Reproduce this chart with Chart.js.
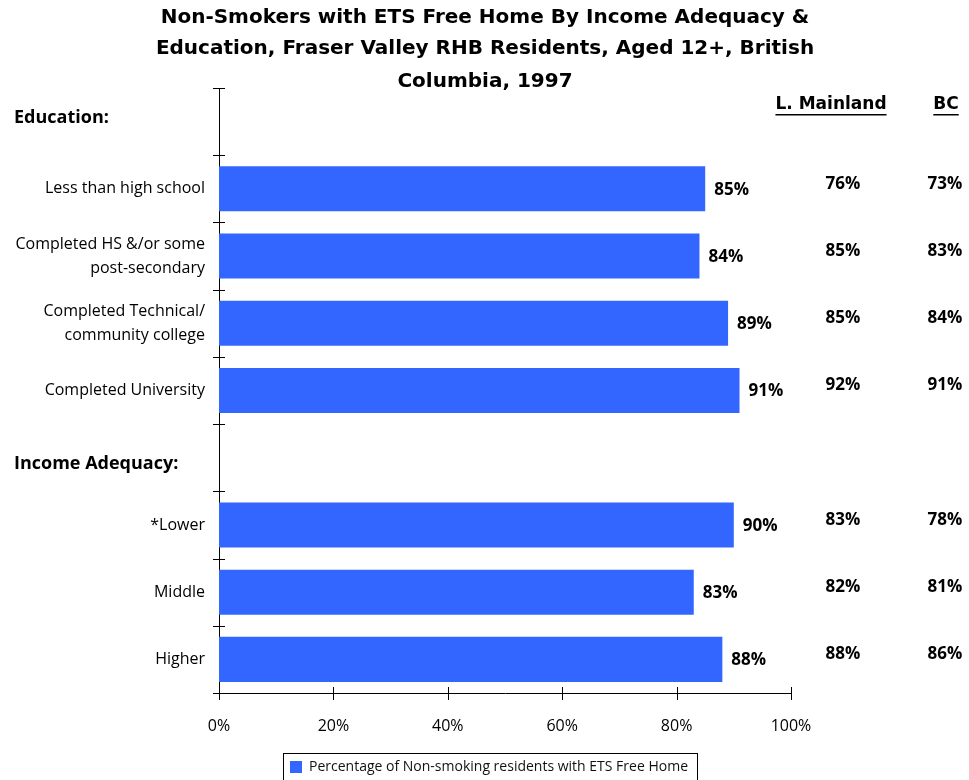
<!DOCTYPE html>
<html lang="en">
<head>
    <meta charset="UTF-8">
    <title>Non-Smokers with ETS Free Home</title>
    <script src="https://cdn.jsdelivr.net/npm/chart.js"></script>
    <style>
        html, body { margin: 0; padding: 0; background: #fff; }
        #wrap { position: relative; width: 969px; height: 780px; }
    </style>
</head>
<body>
    <div id="wrap"><canvas id="myChart"></canvas></div>

    <script>
        // Rows of the chart (blank rows hold the section headings)
        const categories = [
            '',
            'Less than high school',
            ['Completed HS &/or some', 'post-secondary'],
            ['Completed Technical/', 'community college'],
            'Completed University',
            '',
            '*Lower',
            'Middle',
            'Higher'
        ];
        const sections = ['Education:', null, null, null, null, 'Income Adequacy:', null, null, null];
        const fraserValley = [null, 85, 84, 89, 91, null, 90, 83, 88];
        const lowerMainland = [null, 76, 85, 85, 92, null, 83, 82, 88];
        const bcTotal = [null, 73, 83, 84, 91, null, 78, 81, 86];
        const xTickValues = [0, 20, 40, 60, 80, 100];
        const titleLines = [
            'Non-Smokers with ETS Free Home By Income Adequacy &',
            'Education, Fraser Valley RHB Residents, Aged 12+, British',
            'Columbia, 1997'
        ];

        const FONT = '"Open Sans", "Liberation Sans", sans-serif';
        const WIDE = '"DejaVu Sans", Verdana, sans-serif';
        const BAR_BLUE = '#3366FF';

        // Legend sits centred under the plot, not under the whole canvas
        const legendShift = {
            id: 'legendShift',
            afterLayout(chart) {
                const lg = chart.legend;
                if (!lg) return;
                const d = 489 - (lg.left + lg.right) / 2;
                lg.left += d;
                lg.right += d;
                (lg.legendHitBoxes || []).forEach(h => { h.left += d; });
            }
        };

        // Title, headings, bar values, side columns, axis ticks and legend frame
        const extras = {
            id: 'extras',
            afterDraw(chart) {
                const { ctx, scales: { x, y } } = chart;
                ctx.save();

                // title
                ctx.fillStyle = '#000';
                ctx.textAlign = 'center';
                ctx.textBaseline = 'middle';
                ctx.font = 'bold 20px ' + WIDE;
                const titleY = [18, 49, 82];
                titleLines.forEach((t, i) => ctx.fillText(t, 485, titleY[i]));

                // tick marks crossing the axes
                ctx.strokeStyle = '#000';
                ctx.lineWidth = 1;
                ctx.beginPath();
                const step = (y.bottom - y.top) / categories.length;
                for (let i = 0; i <= categories.length; i++) {
                    const py = Math.round(y.top + i * step) + 0.5;
                    ctx.moveTo(x.left - 6, py);
                    ctx.lineTo(x.left + 6, py);
                }
                xTickValues.forEach(v => {
                    const px = Math.round(x.getPixelForValue(v)) + 0.5;
                    ctx.moveTo(px, y.bottom - 6);
                    ctx.lineTo(px, y.bottom + 7);
                });
                ctx.stroke();

                // section headings
                ctx.textAlign = 'left';
                ctx.font = 'bold 18px ' + FONT;
                const headOffset = [-4, 6];
                let k = 0;
                sections.forEach((s, i) => {
                    if (!s) return;
                    ctx.fillText(s, 14, y.getPixelForValue(i) + headOffset[k++]);
                });

                // values at the end of each bar
                ctx.font = 'bold 17px ' + FONT;
                const meta = chart.getDatasetMeta(0);
                meta.data.forEach((bar, i) => {
                    if (fraserValley[i] == null) return;
                    ctx.fillText(fraserValley[i] + '%', bar.x + 9, bar.y + 1);
                });

                // comparison columns
                ctx.textAlign = 'center';
                const colMain = 843, colBC = 945;
                lowerMainland.forEach((v, i) => {
                    if (v == null) return;
                    const py = y.getPixelForValue(i) - 5;
                    ctx.fillText(v + '%', colMain, py);
                    ctx.fillText(bcTotal[i] + '%', colBC, py);
                });

                // underlined column headings
                ctx.font = 'bold 17px ' + WIDE;
                [['L. Mainland', 831], ['BC', 946]].forEach(([t, cx]) => {
                    ctx.fillText(t, cx, 105);
                    const w = ctx.measureText(t).width;
                    ctx.fillRect(cx - w / 2, 114, w, 1.5);
                });

                // frame around the legend
                const lg = chart.legend;
                if (lg && lg.legendHitBoxes && lg.legendHitBoxes.length) {
                    const hb = lg.legendHitBoxes[0];
                    ctx.strokeStyle = '#000';
                    ctx.strokeRect(Math.round(hb.left - 7) + 0.5, Math.round(hb.top - 7) + 0.5,
                        Math.round(hb.width + 16), Math.round(hb.height + 28));
                }
                ctx.restore();
            }
        };

        const ctx = document.getElementById('myChart').getContext('2d');
        const chart = new Chart(ctx, {
            type: 'bar',
            data: {
                labels: categories,
                datasets: [{
                    label: 'Percentage of Non-smoking residents with ETS Free Home',
                    data: fraserValley,
                    backgroundColor: BAR_BLUE,
                    borderWidth: 0,
                    barPercentage: 0.67,
                    categoryPercentage: 1.0
                }]
            },
            options: {
                indexAxis: 'y',
                responsive: true,
                maintainAspectRatio: false,
                animation: false,
                layout: { padding: { top: 88, right: 178, left: 0, bottom: -4 } },
                scales: {
                    x: {
                        min: 0,
                        max: 100,
                        afterFit: s => { s.height = 57; },
                        afterBuildTicks: s => { s.ticks = xTickValues.map(v => ({ value: v })); },
                        grid: { display: false },
                        border: { display: true, color: '#000', width: 1 },
                        ticks: {
                            padding: 16,
                            color: '#000',
                            font: { family: FONT, size: 16 },
                            callback: v => v + '%'
                        }
                    },
                    y: {
                        afterFit: s => { s.width = 219; },
                        grid: { display: false },
                        border: { display: true, color: '#000', width: 1 },
                        ticks: {
                            padding: 6,
                            color: '#000',
                            font: { family: FONT, size: 16, lineHeight: 1.5 }
                        }
                    }
                },
                plugins: {
                    title: { display: false },
                    tooltip: { enabled: false },
                    legend: {
                        position: 'bottom',
                        labels: {
                            boxWidth: 12,
                            boxHeight: 12,
                            padding: 10,
                            color: '#111',
                            font: { family: FONT, size: 14 }
                        }
                    }
                }
            },
            plugins: [legendShift, extras]
        });
    </script>
</body>
</html>
